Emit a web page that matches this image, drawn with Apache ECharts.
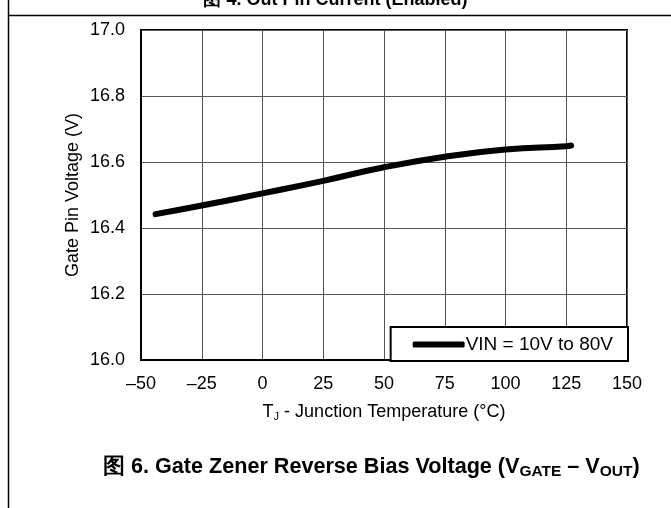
<!DOCTYPE html>
<html>
<head>
<meta charset="utf-8">
<script src="https://cdn.jsdelivr.net/npm/echarts@6/dist/echarts.min.js"></script>
<style>
html,body{margin:0;padding:0;background:#fff;}
#chart{width:671px;height:508px;}
</style>
</head>
<body>
<div id="chart"></div>
<script>
var temps = [-44, -25, 0, 25, 50, 75, 100, 125, 127];
var volts = [16.442, 16.468, 16.505, 16.543, 16.584, 16.616, 16.638, 16.648, 16.65];
var seriesName = 'VIN = 10V to 80V';
var xTicks = [-50, -25, 0, 25, 50, 75, 100, 125, 150];
var yTicks = [16.0, 16.2, 16.4, 16.6, 16.8, 17.0];

var FONT = '"Liberation Sans", Arial, sans-serif';
var chart = echarts.init(document.getElementById('chart'), null, {renderer: 'canvas'});
var data = temps.map(function (t, i) { return [t, volts[i]]; });

chart.setOption({
  animation: false,
  backgroundColor: '#fff',
  textStyle: {fontFamily: FONT},
  grid: {left: 141, right: 44, top: 30, bottom: 148, show: true, borderColor: '#000', borderWidth: 2, containLabel: false},
  xAxis: {
    type: 'value', min: xTicks[0], max: xTicks[xTicks.length - 1], interval: 25,
    axisLine: {show: true, onZero: false, lineStyle: {color: '#000', width: 2}},
    axisTick: {show: false},
    splitLine: {show: true, lineStyle: {color: '#555', width: 1}},
    axisLabel: {color: '#000', fontSize: 18, fontFamily: FONT, margin: 15,
      formatter: function (v) { return v < 0 ? '\u2013' + Math.abs(v) : String(v); }},
    name: '{t|T}{s|J}{t| - Junction Temperature (°C)}',
    nameLocation: 'middle', nameGap: 42, nameMoveOverlap: false,
    nameTextStyle: {rich: {
      t: {fontSize: 18, color: '#000', fontFamily: FONT},
      s: {fontSize: 11, color: '#000', fontFamily: FONT, verticalAlign: 'bottom', padding: [9, 0, 0, 0]}
    }}
  },
  yAxis: {
    type: 'value', min: 16, max: 17, interval: 0.2,
    axisLine: {show: true, onZero: false, lineStyle: {color: '#000', width: 2}},
    axisTick: {show: false},
    splitLine: {show: true, lineStyle: {color: '#555', width: 1}},
    axisLabel: {color: '#000', fontSize: 18, fontFamily: FONT, margin: 16,
      formatter: function (v) { return v.toFixed(1); }},
    name: 'Gate Pin Voltage (V)', nameLocation: 'middle', nameGap: 59, nameMoveOverlap: false,
    nameTextStyle: {color: '#000', fontSize: 18, fontFamily: FONT}
  },
  legend: {
    show: true, right: 43, bottom: 147,
    backgroundColor: '#fff', borderColor: '#000', borderWidth: 2, borderRadius: 0,
    padding: [8, 15, 7, 22],
    itemWidth: 52, itemHeight: 6, itemGap: 0,
    icon: 'roundRect',
    textStyle: {color: '#000', fontSize: 19, fontFamily: FONT, padding: [0, 0, 0, -4]},
    data: [{name: seriesName, icon: 'roundRect'}]
  },
  series: [{
    name: seriesName, type: 'line', data: data, smooth: true, showSymbol: false, symbol: 'none',
    lineStyle: {color: '#000', width: 6, cap: 'round', join: 'round'},
    itemStyle: {color: '#000'}
  }],
  graphic: [
    {type: 'line', shape: {x1: 8.5, y1: 0, x2: 8.5, y2: 508}, style: {stroke: '#000', lineWidth: 1.5}, silent: true},
    {type: 'line', shape: {x1: 8, y1: 15.5, x2: 671, y2: 15.5}, style: {stroke: '#000', lineWidth: 1.5}, silent: true},
    {type: 'text', left: 'center', top: -9, style: {text: '图 4. Out Pin Current (Enabled)', font: 'bold 18px ' + FONT, fill: '#000'}, silent: true},
    {type: 'text', x: 103, y: 454, style: {
      text: '{b|图 6. Gate Zener Reverse Bias Voltage (V}{s|GATE}{b| – V}{s|OUT}{b|)}',
      rich: {
        b: {font: 'bold 21.6px ' + FONT, fill: '#000'},
        s: {font: 'bold 15.5px ' + FONT, fill: '#000', verticalAlign: 'bottom', padding: [10, 0, 0, 0]}
      }
    }, silent: true}
  ]
});
</script>
</body>
</html>
